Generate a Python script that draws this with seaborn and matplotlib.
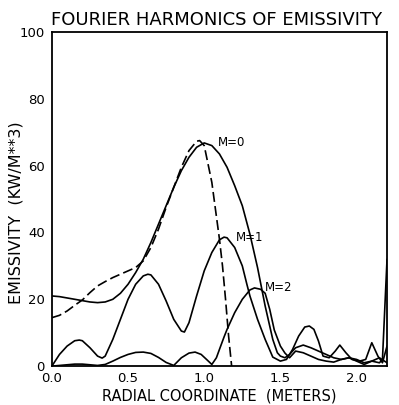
import seaborn as sns
import matplotlib.pyplot as plt

# values (radius in m, emissivity in kW/m^3)
m0_r = [0.00, 0.05, 0.10, 0.15, 0.20, 0.25, 0.30, 0.35, 0.40, 0.45, 0.50, 0.55,
        0.60, 0.65, 0.70, 0.75, 0.80, 0.85, 0.90, 0.95, 1.00, 1.05, 1.10, 1.15,
        1.20, 1.25, 1.30, 1.35, 1.40, 1.45, 1.48, 1.50, 1.53, 1.56, 1.60, 1.65,
        1.70, 1.75, 1.80, 1.85, 1.90, 1.95, 2.00, 2.05, 2.10, 2.15, 2.17, 2.20]
m0_e = [21.0, 20.8, 20.4, 20.0, 19.6, 19.2, 19.0, 19.2, 20.0, 21.8, 24.5, 28.0,
        32.0, 37.0, 42.5, 48.0, 53.5, 58.5, 62.5, 65.5, 66.8, 66.0, 63.5, 59.5,
        54.0, 48.0, 39.5, 29.5, 18.0, 8.0, 4.0, 3.0, 2.5, 3.5, 5.5, 6.3,
        5.5, 4.5, 3.5, 2.5, 2.0, 2.5, 2.0, 1.0, 1.5, 1.0, 2.0, 32.0]

m1_r = [0.00, 0.05, 0.10, 0.15, 0.18, 0.20, 0.25, 0.30, 0.33, 0.35, 0.40, 0.45,
        0.50, 0.55, 0.60, 0.63, 0.65, 0.70, 0.75, 0.80, 0.85, 0.87, 0.90, 0.95,
        1.00, 1.05, 1.10, 1.13, 1.15, 1.20, 1.25, 1.28, 1.30, 1.35, 1.40, 1.45,
        1.50, 1.54, 1.58, 1.62, 1.66, 1.69, 1.72, 1.75, 1.78, 1.82, 1.86, 1.89,
        1.93, 1.97, 2.02, 2.06, 2.10, 2.14, 2.17, 2.20]
m1_e = [0.0, 3.5, 6.0, 7.6, 7.8, 7.6, 5.5, 3.0, 2.4, 3.0, 8.0, 14.0,
        20.0, 24.5, 27.0, 27.5, 27.3, 24.5, 19.5, 14.0, 10.5, 10.2, 13.0, 21.0,
        28.5, 34.0, 37.8, 38.6, 38.4, 35.5, 30.0, 24.5, 21.0, 14.0, 8.0, 2.7,
        1.5, 2.0, 5.0, 9.0, 11.7, 12.0, 11.0, 7.5, 3.0, 2.5, 4.5, 6.3,
        4.0, 2.0, 1.5, 2.0, 7.0, 3.0, 1.0, 6.0]

m2_r = [0.00, 0.05, 0.10, 0.15, 0.20, 0.25, 0.30, 0.35, 0.40, 0.45, 0.50, 0.55,
        0.60, 0.65, 0.70, 0.75, 0.80, 0.85, 0.90, 0.94, 0.98, 1.02, 1.05, 1.08,
        1.10, 1.13, 1.15, 1.20, 1.25, 1.30, 1.33, 1.37, 1.40, 1.43, 1.46, 1.50,
        1.53, 1.56, 1.60, 1.65, 1.70, 1.75, 1.80, 1.85, 1.90, 1.95, 2.00, 2.05,
        2.10, 2.15, 2.20]
m2_e = [0.0, 0.2, 0.4, 0.6, 0.6, 0.4, 0.2, 0.5, 1.5, 2.6, 3.5, 4.1,
        4.2, 3.8, 2.6, 1.1, 0.2, 2.5, 3.9, 4.2, 3.5, 1.8, 0.5, 2.5,
        5.0, 8.7, 11.0, 16.0, 20.0, 22.8, 23.4, 23.0, 21.8, 17.0, 10.8, 6.0,
        3.9, 2.5, 4.5, 4.0, 3.0, 2.0, 1.5, 1.2, 2.0, 2.5, 1.5, 0.5,
        1.5, 2.5, 1.0]

# dashed curve (total emissivity profile)
tot_r = [0.00, 0.05, 0.10, 0.15, 0.20, 0.25, 0.30, 0.35, 0.40, 0.45, 0.50, 0.55,
         0.60, 0.65, 0.70, 0.75, 0.80, 0.85, 0.90, 0.95, 0.97, 1.00, 1.05, 1.10,
         1.12, 1.14, 1.16, 1.18]
tot_e = [14.5, 15.2, 16.5, 18.2, 19.8, 22.0, 24.0, 25.3, 26.5, 27.5, 28.5, 29.5,
         31.5, 35.5, 41.0, 47.5, 53.5, 59.5, 64.5, 67.3, 67.5, 66.0, 55.0, 38.0,
         30.0, 20.0, 9.0, 0.0]

labels = ['M=0', 'M=1', 'M=2']
label_pos = [(1.09, 67), (1.21, 38.5), (1.40, 23.5)]

sns.set_style('white')
plt.rcParams.update({'text.color': 'black', 'axes.labelcolor': 'black',
                     'xtick.color': 'black', 'ytick.color': 'black'})
fig = plt.figure(figsize=(3.99, 4.05), dpi=100)
ax = fig.add_axes([0.130, 0.096, 0.840, 0.825])

for r, e in [(m0_r, m0_e), (m1_r, m1_e), (m2_r, m2_e)]:
    sns.lineplot(x=r, y=e, ax=ax, color='black', linewidth=1.2)
sns.lineplot(x=tot_r, y=tot_e, ax=ax, color='black', linewidth=1.2,
             linestyle=(0, (6, 2.5)))

for lab, (x, y) in zip(labels, label_pos):
    ax.text(x, y, lab, fontsize=8.5, va='center', ha='left')

ax.set_xlim(0, 2.2)
ax.set_ylim(0, 100)
ax.set_xticks([0.0, 0.5, 1.0, 1.5, 2.0])
ax.set_xticklabels(['0.0', '0.5', '1.0', '1.5', '2.0'])
ax.set_yticks([0, 20, 40, 60, 80, 100])
ax.tick_params(axis='both', labelsize=9.5, length=3, width=1,
               direction='out', pad=2)
ax.tick_params(axis='x', direction='inout', length=5)
for s in ax.spines.values():
    s.set_color('black')
    s.set_linewidth(1.3)

ax.set_xlabel('RADIAL COORDINATE  (METERS)', fontsize=10.5, labelpad=2)
ax.set_ylabel('EMISSIVITY  (KW/M**3)', fontsize=11.5)
ax.yaxis.set_label_coords(-0.085, 0.46)
ax.set_title('FOURIER HARMONICS OF EMISSIVITY', fontsize=13, pad=5, x=0.49)

fig.savefig('out.png', dpi=100)
